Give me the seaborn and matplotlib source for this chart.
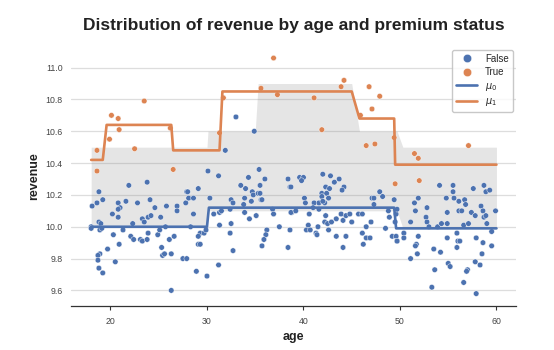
import numpy as np
import pandas as pd
import matplotlib
matplotlib.use("Agg")
import matplotlib.pyplot as plt
from matplotlib.lines import Line2D
import seaborn as sns

false_age_a = [21.9, 23.8, 18.8, 18.1, 18.6, 19.2, 18.0, 18.0, 18.8, 19.0, 18.9, 19.1, 20.8, 21.0, 20.8,
               20.2, 20.8, 21.6, 22.8, 24.1, 24.6, 25.8, 26.9, 26.9, 27.9, 27.8, 22.3, 23.3, 23.5, 23.9,
               24.2, 25.2, 25.7, 20.3, 21.3, 22.1, 22.4, 23.1, 23.3, 23.8, 23.9, 24.9, 25.1, 20.9, 26.1,
               26.6, 25.3, 25.4, 25.6, 26.3, 19.7, 18.9, 18.7, 18.7, 20.5, 18.8, 19.2, 26.3, 27.5, 27.9]
false_rev_a = [10.26, 10.28, 10.22, 10.13, 10.15, 10.17, 10.00, 9.99, 10.03, 10.02, 9.98, 9.99, 10.15, 10.12, 10.11,
               10.08, 10.06, 10.16, 10.15, 10.17, 10.12, 10.13, 10.13, 10.10, 10.22, 10.15, 10.02, 10.05, 10.03, 10.06,
               10.07, 10.06, 10.00, 9.95, 9.98, 9.94, 9.92, 9.92, 9.91, 9.92, 9.96, 9.95, 9.98, 9.89, 9.92,
               9.94, 9.87, 9.82, 9.83, 9.83, 9.86, 9.83, 9.82, 9.79, 9.78, 9.74, 9.71, 9.60, 9.80, 9.80]

false_age_b = [30.1, 31.2, 29.1, 28.0, 28.1, 28.6, 30.3, 28.6, 28.3, 29.3, 29.7, 29.1, 29.9, 29.1, 29.3,
               28.9, 30.0, 31.2, 30.7, 31.3, 31.5, 31.3, 32.4, 32.5, 32.4, 32.7, 32.5, 32.7, 33.5, 34.0,
               34.3, 33.9, 33.8, 33.9, 34.7, 34.8, 34.6, 34.4, 35.1, 35.3, 35.5, 35.5, 35.4, 36.0, 35.6,
               35.7, 36.2, 36.1, 35.9, 35.7, 36.8, 36.9, 37.5, 38.4, 38.6, 38.8, 38.6, 38.4, 33.0, 34.9, 31.9]
false_rev_b = [10.35, 10.32, 10.24, 10.22, 10.18, 10.18, 10.18, 10.08, 10.00, 9.96, 9.96, 9.94, 9.98, 9.89, 9.89,
               9.72, 9.69, 9.76, 10.08, 10.09, 10.10, 10.01, 10.11, 10.02, 9.96, 9.85, 10.17, 10.15, 10.26, 10.24,
               10.31, 10.18, 10.14, 10.09, 10.22, 10.20, 10.16, 10.05, 10.07, 10.21, 10.21, 10.26, 10.36, 10.30, 10.17,
               10.17, 9.98, 9.95, 9.92, 9.88, 10.11, 10.08, 10.00, 10.30, 10.25, 10.09, 9.98, 9.87, 10.69, 10.60, 10.48]

false_age_c = [39.6, 40.0, 39.8, 42.0, 42.8, 43.7, 43.2, 42.3, 42.7, 44.2, 44.0, 38.7, 41.9, 42.4, 42.6,
               41.9, 40.1, 40.2, 41.1, 41.6, 42.2, 42.0, 41.0, 41.6, 38.7, 39.2, 47.1, 47.3, 47.9, 48.2,
               47.3, 49.4, 48.8, 40.6, 42.3, 42.2, 42.5, 42.9, 43.4, 43.9, 44.1, 44.4, 44.8, 45.0, 45.7,
               46.1, 47.0, 46.5, 48.9, 49.5, 40.5, 40.3, 40.7, 41.5, 41.3, 41.4, 42.6, 46.1, 46.5, 46.9,
               46.2, 48.5, 43.4, 44.4, 44.1, 49.2, 49.6, 49.7]
false_rev_c = [10.31, 10.31, 10.29, 10.33, 10.32, 10.30, 10.28, 10.25, 10.24, 10.25, 10.23, 10.25, 10.21, 10.21, 10.18,
               10.19, 10.18, 10.15, 10.15, 10.15, 10.15, 10.16, 10.12, 10.11, 10.09, 10.10, 10.18, 10.18, 10.22, 10.19,
               10.14, 10.17, 10.10, 10.08, 10.07, 10.03, 10.02, 10.03, 10.05, 10.08, 10.04, 10.07, 10.08, 10.03, 10.08,
               10.08, 10.03, 10.00, 10.06, 10.03, 10.01, 9.98, 9.98, 10.00, 9.96, 9.95, 9.98, 9.96, 9.93, 9.93,
               9.89, 9.99, 9.94, 9.94, 9.87, 9.94, 9.94, 9.91]

false_age_d = [54.1, 55.5, 55.5, 57.6, 58.7, 58.9, 59.3, 51.9, 51.5, 54.8, 55.6, 56.1, 56.7, 56.8, 58.4,
               51.6, 52.8, 54.9, 56.1, 56.4, 57.4, 58.6, 57.8, 58.7, 58.9, 59.9, 52.7, 52.8, 51.1, 53.0,
               53.9, 54.3, 54.9, 56.6, 57.1, 59.0, 59.5, 49.6, 49.7, 50.4, 50.4, 49.7, 51.9, 51.7, 51.6,
               51.8, 51.1, 53.5, 54.2, 54.9, 55.9, 56.0, 56.2, 55.9, 57.9, 58.6, 59.5, 58.5, 57.8, 58.3,
               55.0, 55.2, 53.6, 57.0, 56.9, 56.6, 53.3, 57.9]
false_rev_d = [10.26, 10.26, 10.22, 10.24, 10.26, 10.22, 10.23, 10.18, 10.15, 10.18, 10.18, 10.16, 10.17, 10.14, 10.13,
               10.10, 10.12, 10.09, 10.10, 10.10, 10.09, 10.10, 10.07, 10.06, 10.07, 10.10, 10.06, 10.03, 10.03, 10.00,
               10.00, 10.02, 10.02, 10.01, 10.02, 10.02, 9.97, 10.08, 10.11, 9.96, 9.93, 9.91, 9.94, 9.89, 9.88,
               9.83, 9.80, 9.86, 9.84, 9.93, 9.96, 9.91, 9.91, 9.87, 9.93, 9.90, 9.88, 9.83, 9.78, 9.76,
               9.77, 9.75, 9.73, 9.73, 9.72, 9.65, 9.62, 9.58]

# premium = True
true_age = [18.6, 18.6, 19.9, 20.1, 20.8, 20.9, 22.5, 23.5, 26.2, 26.5, 31.3, 31.7, 36.9, 35.6, 37.3, 41.1,
            41.9, 43.9, 44.2, 46.8, 47.9, 47.1, 45.9, 46.5, 47.4, 49.4, 51.5, 51.9, 49.5, 52.0, 57.1]
true_rev = [10.48, 10.35, 10.55, 10.70, 10.68, 10.61, 10.49, 10.79, 10.62, 10.36, 10.59, 10.81, 11.06, 10.87, 10.83, 10.81,
            10.61, 10.88, 10.92, 10.88, 10.82, 10.74, 10.70, 10.51, 10.52, 10.56, 10.46, 10.43, 10.27, 10.29, 10.51]

# group means (mu0 / mu1) evaluated along age
mu0_age = [18.0, 30.0, 30.2, 49.4, 49.6, 60.0]
mu0_val = [10.00, 10.00, 10.12, 10.12, 9.99, 9.99]
mu1_age = [18.0, 19.2, 19.6, 26.3, 26.5, 31.3, 31.6, 45.0, 45.8, 49.4, 49.5, 60.0]
mu1_val = [10.42, 10.42, 10.64, 10.64, 10.48, 10.48, 10.85, 10.85, 10.68, 10.68, 10.39, 10.39]

# shaded band
band_age = [18.0, 30.0, 30.1, 35.0, 35.3, 45.0, 45.8, 49.7, 50.3, 60.0]
band_lo = [10.00, 10.00, 10.10, 10.10, 10.10, 10.10, 10.10, 10.10, 9.99, 9.99]
band_hi = [10.50, 10.50, 10.60, 10.60, 10.90, 10.90, 10.60, 10.60, 10.50, 10.50]

ages = false_age_a + false_age_b + false_age_c + false_age_d + true_age
revs = false_rev_a + false_rev_b + false_rev_c + false_rev_d + true_rev
n_false = len(ages) - len(true_age)
df = pd.DataFrame({"age": ages, "revenue": revs,
                   "premium": ["False"] * n_false + ["True"] * len(true_age)})

sns.set_theme(style="whitegrid")
plt.rcParams['font.family'] = ['Liberation Sans', 'DejaVu Sans']
pal = sns.color_palette("deep")
blue, orange = pal[0], pal[1]

fig, ax = plt.subplots(figsize=(5.54, 3.5), dpi=100)
fig.subplots_adjust(left=0.128, right=0.931, bottom=0.127, top=0.866)

ax.fill_between(band_age, band_lo, band_hi, color="0.5", alpha=0.2, linewidth=0, zorder=1)
sns.scatterplot(data=df, x="age", y="revenue", hue="premium", hue_order=["False", "True"],
                palette=[blue, orange], s=16, edgecolor="white", linewidth=0.3,
                ax=ax, legend=False, zorder=3)
ax.plot(mu0_age, mu0_val, color=blue, lw=1.9, zorder=4)
ax.plot(mu1_age, mu1_val, color=orange, lw=1.9, zorder=4)

ax.set_xlim(15.9, 62.0)
ax.set_ylim(9.505, 11.13)
ax.set_xticks([20, 30, 40, 50, 60])
ax.set_yticks([9.6, 9.8, 10.0, 10.2, 10.4, 10.6, 10.8, 11.0])
ax.grid(axis="x", visible=False)
ax.grid(axis="y", color="#dddddd", lw=0.9)
sns.despine(ax=ax, left=True)
ax.spines["bottom"].set_color("#333333")
ax.spines["bottom"].set_linewidth(0.9)
ax.tick_params(axis="y", labelsize=6.3, colors="#444444", length=0, pad=6)
ax.tick_params(axis="x", labelsize=6.3, colors="#444444", length=3, width=0.8,
               bottom=True, pad=5, color="#333333")

ax.set_xlabel("age", fontsize=9, fontweight="bold", color="#222222", labelpad=4)
ax.set_ylabel("revenue", fontsize=9, fontweight="bold", color="#222222")
ax.set_title("Distribution of revenue by age and premium status",
             fontsize=12.5, fontweight="bold", color="#222222", pad=12)

handles = [
    Line2D([], [], marker="o", ls="", color=blue, markersize=6, markeredgecolor="white", markeredgewidth=0.3),
    Line2D([], [], marker="o", ls="", color=orange, markersize=6, markeredgecolor="white", markeredgewidth=0.3),
    Line2D([], [], color=blue, lw=1.9),
    Line2D([], [], color=orange, lw=1.9),
]
leg = ax.legend(handles, ["False", "True", r"$\mu_0$", r"$\mu_1$"], loc="upper right",
                fontsize=7, frameon=True, borderaxespad=0.3, handlelength=2.2, labelspacing=0.35)
leg.get_frame().set_edgecolor("#bbbbbb")

fig.savefig("out.png", dpi=100)
